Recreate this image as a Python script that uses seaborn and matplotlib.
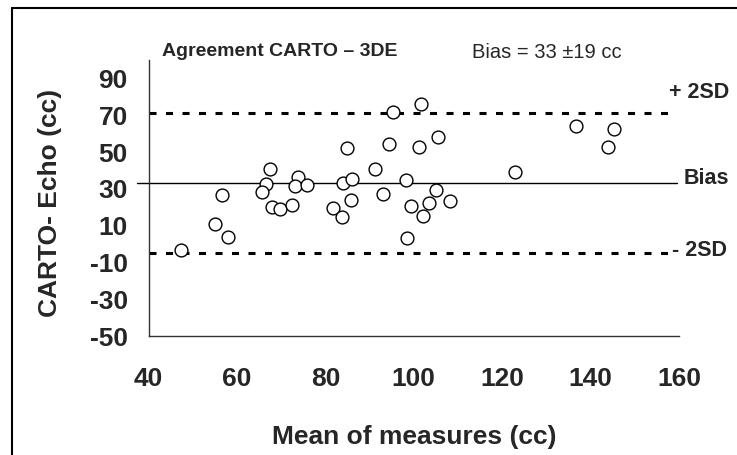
import matplotlib
matplotlib.use("Agg")
import matplotlib.pyplot as plt
import seaborn as sns
import pandas as pd
from matplotlib.lines import Line2D

# ---- data ----
mean_measures = [47.3, 55.1, 58.0, 56.7, 67.4, 66.5, 65.6, 68.0, 69.7, 72.5,
                 73.9, 73.1, 75.8, 81.8, 83.8, 84.1, 86.0, 85.7, 84.8, 91.2,
                 93.1, 94.4, 95.4, 98.3, 99.4, 98.4, 101.6, 105.4, 101.2, 105.0,
                 103.4, 108.3, 102.0, 123.0, 136.6, 145.4, 144.0]
differences = [-3.2, 11.1, 3.6, 26.4, 40.8, 32.7, 28.5, 19.9, 19.0, 21.0,
               36.3, 31.6, 32.3, 19.6, 14.5, 33.2, 35.5, 24.1, 52.1, 40.8,
               27.1, 54.2, 71.8, 34.8, 20.5, 3.0, 76.3, 58.0, 52.8, 29.4,
               22.5, 23.3, 15.3, 39.3, 64.3, 62.6, 52.8]
bias = 33
sd = 19
upper = 71
lower = -5
x_ticks = [40, 60, 80, 100, 120, 140, 160]
y_ticks = [-50, -30, -10, 10, 30, 50, 70, 90]

df = pd.DataFrame({"mean": mean_measures, "diff": differences})

sns.set_style("white")
FAM = ["Liberation Sans", "DejaVu Sans"]
plt.rcParams["font.family"] = FAM
plt.rcParams["axes.unicode_minus"] = False

W, H = 737, 455
fig = plt.figure(figsize=(W / 100, H / 100), dpi=100)
ax_l, ax_r, ax_b, ax_t = 148.5, 679, 336, 60
ax = fig.add_axes([ax_l / W, 1 - ax_b / H, (ax_r - ax_l) / W, (ax_b - ax_t) / H])

# reference lines
ax.plot([37.5, 159.5], [bias, bias], color="black", lw=1.0, clip_on=False, zorder=1)
for val in (upper, lower):
    ax.plot([40, 158], [val, val], color="black", lw=2.2, dashes=(2.3, 3.1),
            dash_capstyle="butt", clip_on=False, zorder=1)

sns.scatterplot(data=df, x="mean", y="diff", ax=ax, s=85, facecolor="white",
                edgecolor="black", linewidth=1.0, zorder=3, clip_on=False)

ax.set_xlim(40, 160)
ax.set_ylim(-50, 100)
ax.set_xticks(x_ticks)
ax.set_yticks(y_ticks)
ax.set_yticklabels([str(v) for v in y_ticks])
ax.set_xticklabels([str(v) for v in x_ticks])
for s in ("top", "right"):
    ax.spines[s].set_visible(False)
for s in ("left", "bottom"):
    ax.spines[s].set_color("#333333")
    ax.spines[s].set_linewidth(1.0)
ax.tick_params(axis="both", direction="out", length=6.5, width=1.0, color="#333333")
ax.tick_params(axis="y", pad=8.5)
ax.tick_params(axis="x", pad=16)
for lab in ax.get_xticklabels() + ax.get_yticklabels():
    lab.set_fontsize(19)
    lab.set_fontweight("bold")
    lab.set_family(FAM)

ax.set_xlabel("Mean of measures (cc)", fontsize=19, fontweight="bold")
ax.set_ylabel("CARTO- Echo (cc)", fontsize=19, fontweight="bold")
ax.xaxis.set_label_coords(0.5, (ax_b - 437) / (ax_b - ax_t))
ax.xaxis.label.set_va("center")
ax.yaxis.set_label_coords((50 - ax_l) / (ax_r - ax_l), (ax_b - 203) / (ax_b - ax_t))
ax.yaxis.label.set_va("center")

# annotations
fig.text(162 / W, 1 - 52 / H, "Agreement CARTO \u2013 3DE", fontsize=14,
         fontweight="bold", ha="left", va="center")
fig.text(472 / W, 1 - 52 / H, f"Bias = {bias} \u00b1{sd} cc", fontsize=14.5,
         ha="left", va="center")
fig.text(729 / W, 1 - 93 / H, "+ 2SD", fontsize=15.5, fontweight="bold",
         ha="right", va="center")
fig.text(729 / W, 1 - 179 / H, "Bias", fontsize=15.5, fontweight="bold",
         ha="right", va="center")
fig.text(727 / W, 1 - 251 / H, "- 2SD", fontsize=15.5, fontweight="bold",
         ha="right", va="center")

# outer frame (left and top edges visible)
fig.add_artist(Line2D([12 / W, 12 / W], [0, 1 - 7.5 / H], transform=fig.transFigure,
                      color="black", lw=1.5))
fig.add_artist(Line2D([12 / W, 1], [1 - 7.5 / H, 1 - 7.5 / H], transform=fig.transFigure,
                      color="black", lw=1.5))

fig.savefig("out.png", dpi=100)
